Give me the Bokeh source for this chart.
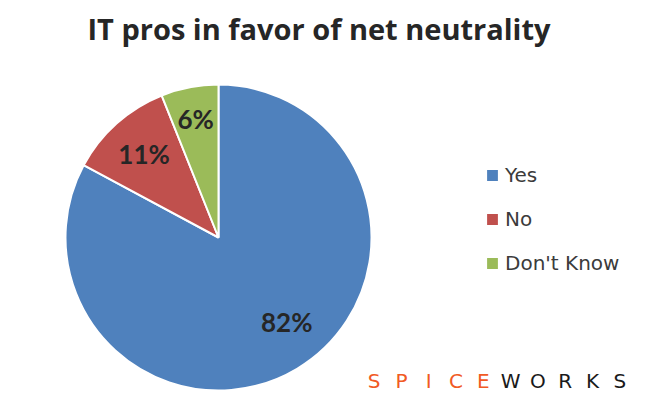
import numpy as np
from bokeh.plotting import figure
from bokeh.models import ColumnDataSource, Legend, LegendItem, Range1d
from bokeh.core.properties import value
from bokeh.embed import file_html
from bokeh.resources import INLINE

title_text = "IT pros in favor of net neutrality"
categories = ["Yes", "No", "Don't Know"]
percents = [82, 11, 6]
colors = ["#4F81BD", "#C0504D", "#9BBB59"]
label_r_frac = [0.71, 0.73, 0.79]
label_angle_adj_deg = [8, 0, 0]
logo_text = "SPICEWORKS"

vals = np.array(percents, dtype=float)
frac = vals / vals.sum()
ends = np.cumsum(frac) * 2 * np.pi
starts = ends - frac * 2 * np.pi
start_angle = np.pi / 2 - starts
end_angle = np.pi / 2 - ends
mid = (start_angle + end_angle) / 2 + np.radians(label_angle_adj_deg)

TOP = 52
FH = 400 - TOP
cx, cy, r = 218, 400 - 237, 153
lab_r = np.array(label_r_frac) * r

src = ColumnDataSource(dict(
    cat=categories, pct=[f"{v}%" for v in percents], color=colors,
    start=start_angle, end=end_angle,
    lx=cx + lab_r * np.cos(mid), ly=cy + lab_r * np.sin(mid),
))

p = figure(frame_width=637, frame_height=FH, min_border=0, min_border_top=TOP,
           x_range=Range1d(0, 637), y_range=Range1d(0, FH),
           toolbar_location=None, output_backend="svg")
p.axis.visible = False
p.grid.visible = False
p.outline_line_color = None
p.background_fill_color = "white"
p.border_fill_color = "white"

p.title.text = title_text
p.title.align = "center"
p.title.offset = 6
p.title.text_font = "Open Sans"
p.title.text_font_size = "29px"
p.title.text_font_style = "bold"
p.title.text_color = "#262626"

w = p.wedge(x=cx, y=cy, radius=r, start_angle="start", end_angle="end",
            direction="clock", fill_color="color", line_color="white",
            line_width=2, source=src)

p.text(x="lx", y="ly", text="pct", source=src, text_align="center",
       text_baseline="middle", text_font=value("Lato"),
       text_font_size="26px", text_font_style="bold", text_color="#262626")

legend = Legend(items=[LegendItem(label=c, renderers=[w], index=i)
                       for i, c in enumerate(categories)],
                location=(484, 125), orientation="vertical",
                label_text_font="DejaVu Sans", label_text_font_size="20px",
                label_text_color="#3b3b3b", glyph_width=16, glyph_height=16,
                label_height=20, spacing=20, label_standoff=5,
                padding=0, margin=0, border_line_color=None,
                background_fill_alpha=0)
p.add_layout(legend)

letters = list(logo_text)
step = 27.3
lx0 = 360 + step / 2
logo_src = ColumnDataSource(dict(
    t=letters,
    x=[lx0 + i * step for i in range(len(letters))],
    y=[400 - 380] * len(letters),
    c=["#F15A24"] * 5 + ["#1a1a1a"] * 5,
))
p.text(x="x", y="y", text="t", text_color="c", source=logo_src,
       text_align="center", text_baseline="middle",
       text_font=value("DejaVu Sans"), text_font_size="20px")

open("out.html", "w").write(file_html(p, INLINE))
